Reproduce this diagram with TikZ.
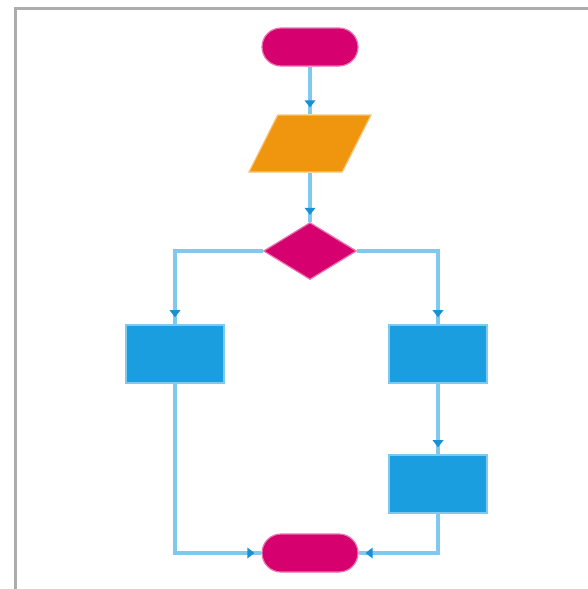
\documentclass[tikz,border=0pt]{standalone}
\usetikzlibrary{arrows.meta,positioning,shapes.geometric}
\definecolor{termred}{HTML}{D6006E}
\definecolor{ioorange}{HTML}{F0960E}
\definecolor{procblue}{HTML}{1B9EDF}
\definecolor{flowblue}{HTML}{80C9EE}
\definecolor{tipblue}{HTML}{1890D6}
\definecolor{framegray}{HTML}{ADADAD}
\tikzset{
  term/.style={fill=termred, draw=termred!55, line width=0.6pt, rounded corners=9.5pt,
    minimum width=48pt, minimum height=19pt, inner sep=0pt},
  inout/.style={trapezium, trapezium left angle=66, trapezium right angle=114,
    trapezium stretches=true,
    fill=ioorange, draw=ioorange!55, line width=0.6pt,
    minimum width=61pt, minimum height=28.5pt, inner sep=0.5pt},
  decide/.style={diamond, fill=termred, draw=termred!55, line width=0.6pt,
    minimum width=46.5pt, minimum height=28.5pt, inner sep=0pt},
  proc/.style={fill=procblue, draw=flowblue, line width=0.8pt,
    minimum width=49pt, minimum height=29pt, inner sep=0pt},
  flow/.style={flowblue, line width=1.6pt,
    -{Triangle[length=3.5pt,width=5.5pt,color=tipblue,line width=0pt]
      Rectangle[length=3.5pt,width=1.6pt,color=flowblue,line width=0pt]}}
}
\begin{document}
\begin{tikzpicture}[x=0.5pt,y=-0.5pt]
      \useasboundingbox (0,0) rectangle (588,589);
      \draw[framegray, line width=1.5pt] (15.5,589) -- (15.5,8.5) -- (588,8.5); % frame
      \begin{scope}
        \node[term] (start) at (310,47) {};
        \node[inout] (io) at (310,143.5) {};
        \node[decide] (dec) at (310,251) {};
        \node[proc] (left) at (175,354) {};
        \node[proc] (right) at (438,354) {};
        \node[proc] (right2) at (438,484) {};
        \node[term] (stop) at (310,553) {};
      \end{scope}
      \begin{scope}
        \draw[flow] (start) -- (io);
        \draw[flow] (io) -- (dec);
        \draw[flow] (dec.west) -| (left); % left branch
        \draw[flow] (dec.east) -| (right); % right branch
        \draw[flow] (right) -- (right2);
        \draw[flow] (left) |- (stop); % back in from left
        \draw[flow] (right2) |- (stop); % back in from right
      \end{scope}
    \end{tikzpicture}
\end{document}
